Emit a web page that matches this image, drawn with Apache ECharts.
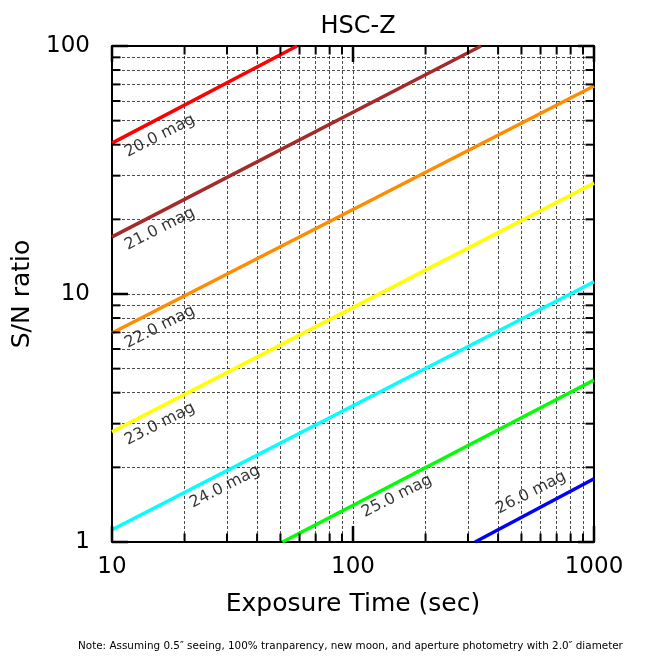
<!DOCTYPE html>
<html>
<head>
<meta charset="utf-8">
<script src="https://cdn.jsdelivr.net/npm/echarts@6/dist/echarts.min.js"></script>
<style>
  html, body { margin: 0; padding: 0; background: #fff; }
  #chart { width: 660px; height: 660px; }
</style>
</head>
<body>
<div id="chart"></div>
<script>
// magnitudes and their S/N lines (two end points each)
var mags = ['20.0 mag', '21.0 mag', '22.0 mag', '23.0 mag', '24.0 mag', '25.0 mag', '26.0 mag']
var lineColors = ['#ff0000', '#a52a2a', '#ff8c00', '#ffff00', '#00ffff', '#00ff00', '#0000ff']
var snLines = [
    [[10, 40.6], [58.6, 100]],
    [[10, 17.0], [340, 100]],
    [[10, 6.96], [1000, 69]],
    [[10, 2.78], [1000, 28]],
    [[10, 1.12], [1000, 11.2]],
    [[51, 1], [1000, 4.5]],
    [[321, 1], [1000, 1.8]]
]
// where each "xx.x mag" label sits (data coords)
var labelAt = [
    [15.8, 43.4], [15.8, 18.3], [15.8, 7.36], [15.8, 2.99],
    [29.4, 1.67], [152, 1.53], [548, 1.58]
]
var xMin = 10, xMax = 1000
var yMin = 1, yMax = 100
// tick positions (inward ticks on all four sides)
var xMajorTicks = [10, 100, 1000]
var xMinorTicks = [20, 30, 40, 50, 60, 70, 80, 90, 200, 300, 400, 500, 600, 700, 800, 900]
var yMajorTicks = [1, 10, 100]
var yMinorTicks = [2, 3, 4, 5, 6, 7, 8, 9, 20, 30, 40, 50, 60, 70, 80, 90]

var font = 'DejaVu Sans'

function logAxis(pos, min, max, main) {
    return {
        type: 'log',
        logBase: 10,
        position: pos,
        min: min,
        max: max,
        axisLine: { show: true, onZero: false, lineStyle: { color: '#000', width: 2 } },
        axisTick: { show: false },
        minorTick: { show: false, splitNumber: 9 },
        splitLine: { show: main, lineStyle: { color: '#000', width: 0.7, type: [3, 2] } },
        minorSplitLine: { show: main, lineStyle: { color: '#000', width: 0.7, type: [3, 2] } },
        axisLabel: {
            show: main, color: '#000', fontFamily: font, fontSize: 23,
            formatter: function (v) { return String(Math.round(v)) }
        }
    }
}

var series = mags.map(function (name, i) {
    return {
        name: name,
        type: 'line',
        xAxisIndex: 0,
        yAxisIndex: 0,
        symbol: 'none',
        silent: true,
        lineStyle: { color: lineColors[i], width: 3.5 },
        data: snLines[i]
    }
})

// the magnitude labels
series.push({
    type: 'scatter',
    silent: true,
    symbolSize: 1,
    itemStyle: { color: 'rgba(0,0,0,0)' },
    data: labelAt.map(function (p, i) { return { value: p, name: mags[i] } }),
    label: {
        show: true,
        position: 'inside',
        formatter: '{b}',
        rotate: 27,
        color: '#000',
        textBorderWidth: 0,
        fontFamily: font,
        fontSize: 16
    }
})

// inward ticks drawn by custom series, positioned with api.coord
function tickLine(x1, y1, x2, y2, w) {
    return {
        type: 'line',
        shape: { x1: x1, y1: y1, x2: x2, y2: y2 },
        style: { stroke: '#000', lineWidth: w }
    }
}

function xTickSeries(vals, len, w) {
    return {
        type: 'custom',
        silent: true,
        clip: false,
        z: 10,
        data: vals.map(function (v) { return [v, yMin] }),
        renderItem: function (params, api) {
            var b = api.coord([api.value(0), yMin])
            var t = api.coord([api.value(0), yMax])
            return {
                type: 'group',
                children: [
                    tickLine(b[0], b[1], b[0], b[1] - len, w),
                    tickLine(t[0], t[1], t[0], t[1] + len, w)
                ]
            }
        }
    }
}

function yTickSeries(vals, len, w) {
    return {
        type: 'custom',
        silent: true,
        clip: false,
        z: 10,
        data: vals.map(function (v) { return [xMin, v] }),
        renderItem: function (params, api) {
            var l = api.coord([xMin, api.value(1)])
            var r = api.coord([xMax, api.value(1)])
            return {
                type: 'group',
                children: [
                    tickLine(l[0], l[1], l[0] + len, l[1], w),
                    tickLine(r[0], r[1], r[0] - len, r[1], w)
                ]
            }
        }
    }
}

series.push(xTickSeries(xMajorTicks, 16, 2.5))
series.push(xTickSeries(xMinorTicks, 8.5, 2))
series.push(yTickSeries(yMajorTicks, 16, 2.5))
series.push(yTickSeries(yMinorTicks, 8.5, 2))

var xMain = Object.assign(logAxis('bottom', xMin, xMax, true), {
    name: 'Exposure Time (sec)',
    nameLocation: 'middle',
    nameGap: 50,
    nameTextStyle: { fontFamily: font, fontSize: 25, color: '#000' }
})
xMain.axisLabel.margin = 14

var yMain = Object.assign(logAxis('left', yMin, yMax, true), {
    name: 'S/N ratio',
    nameLocation: 'middle',
    nameGap: 54,
    nameTextStyle: { fontFamily: font, fontSize: 25, color: '#000' }
})
yMain.axisLabel.margin = 22

var option = {
    animation: false,
    backgroundColor: '#fff',
    title: {
        text: 'HSC-Z',
        left: 353,
        top: 10,
        textAlign: 'center',
        textStyle: { fontFamily: font, fontSize: 24, fontWeight: 'normal', color: '#000' }
    },
    grid: { left: 112, right: 66, top: 46, bottom: 118 },
    xAxis: [xMain, logAxis('top', xMin, xMax, false)],
    yAxis: [yMain, logAxis('right', yMin, yMax, false)],
    graphic: [{
        type: 'text',
        left: 78,
        top: 641,
        style: {
            text: 'Note: Assuming 0.5\u2033 seeing, 100% tranparency, new moon, and aperture photometry with 2.0\u2033 diameter',
            font: '10.4px "DejaVu Sans"',
            fill: '#000'
        }
    }],
    series: series
}

var chart = echarts.init(document.getElementById('chart'))
chart.setOption(option)
</script>
</body>
</html>
